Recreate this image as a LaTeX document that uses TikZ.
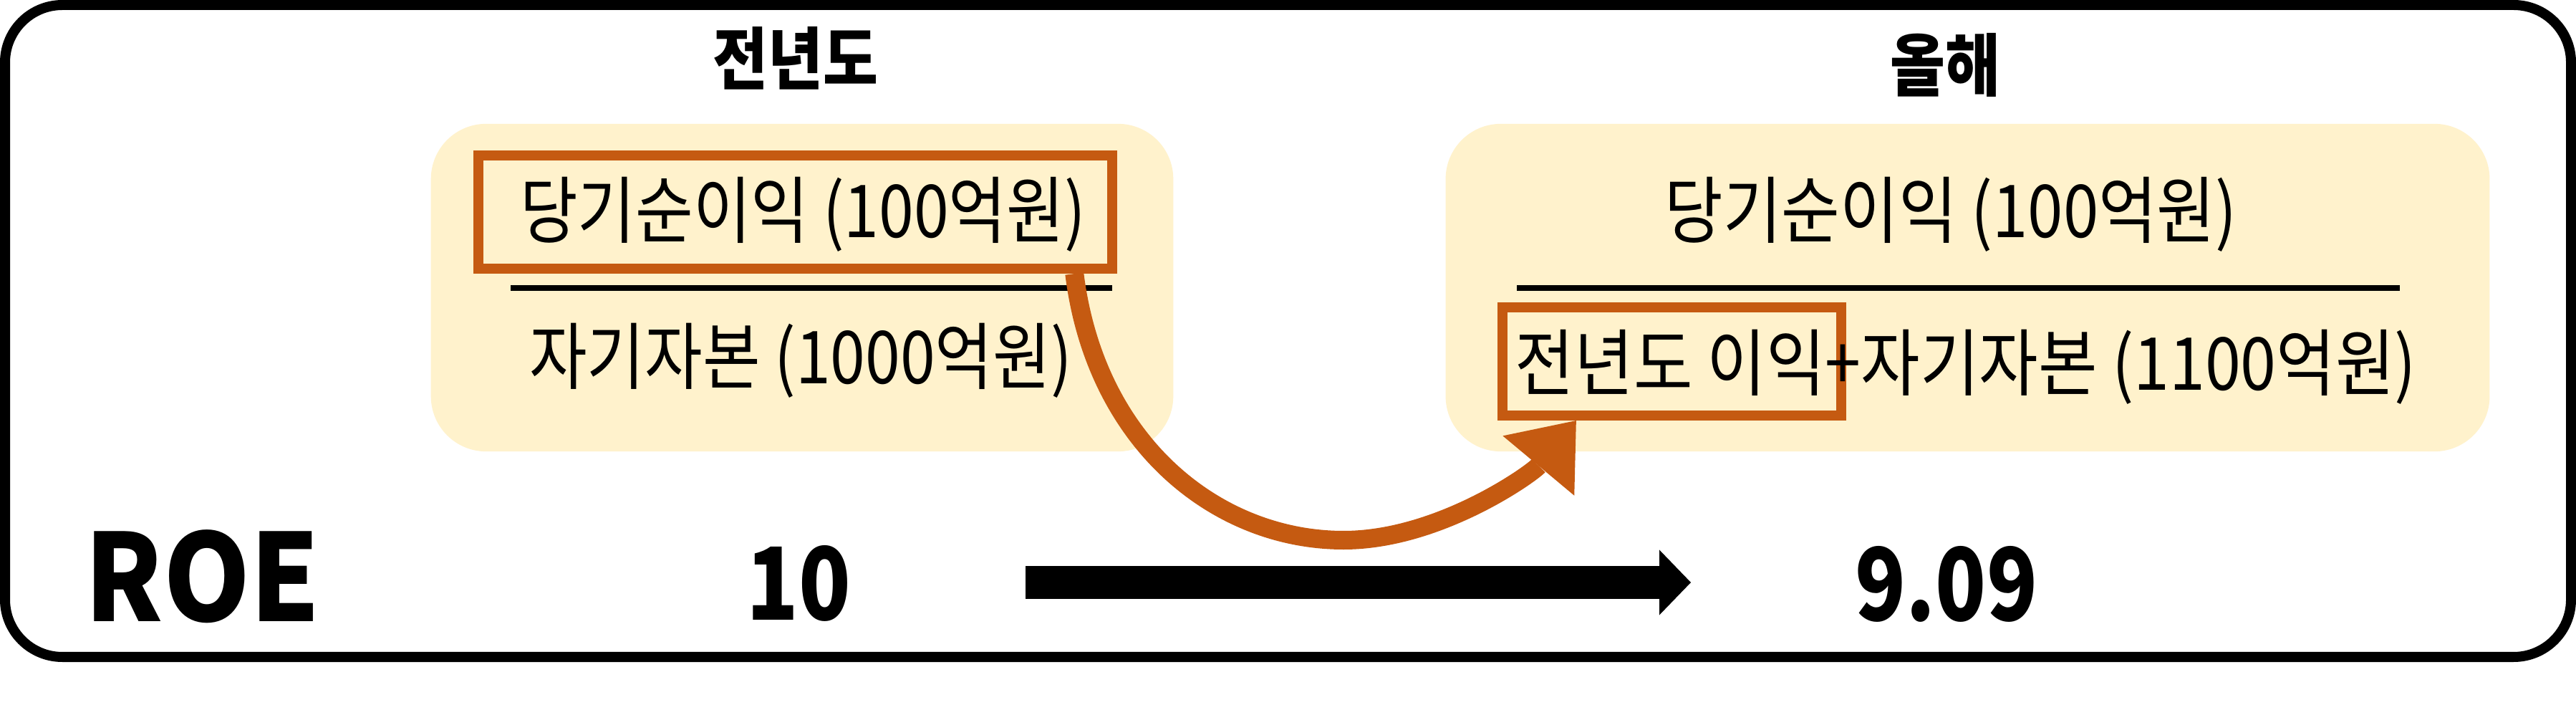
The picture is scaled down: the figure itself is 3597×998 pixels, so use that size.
\documentclass[tikz,border=0pt]{standalone}
\usepackage{fontspec}
\usepackage{graphicx}
\usetikzlibrary{arrows.meta,calc}
\newfontfamily\kr{Noto Sans CJK KR}
\definecolor{panelc}{HTML}{FFF2CC}
\definecolor{orangec}{HTML}{C55A11}
\newcommand\sx[2]{\scalebox{#1}[1]{#2}}
\tikzset{
  panel/.style={fill=panelc, rounded corners=0.77cm, inner sep=0pt},
  hl/.style={draw=orangec, line width=0.14cm, inner sep=0pt},
  fractxt/.style={font=\kr\fontsize{29}{34}\selectfont, inner sep=0pt},
  ttl/.style={font=\kr\bfseries\fontsize{27}{32}\selectfont, inner sep=0pt},
  bigtxt/.style={font=\kr\bfseries\fontsize{48}{56}\selectfont, inner sep=0pt},
  numtxt/.style={font=\kr\bfseries\fontsize{40}{48}\selectfont, inner sep=0pt},
  fracline/.style={line width=0.08cm},
  carrow/.style={draw=orangec, line width=0.26cm, -{Triangle[length=0.82cm,width=1.30cm,line width=0pt]}},
  barrow/.style={line width=0.45cm, -{Triangle[length=0.44cm,width=0.91cm,line width=0pt]}}
}
\begin{document}
\begin{tikzpicture}[x=0.01cm,y=-0.01cm]
\useasboundingbox (0,0) rectangle (3597,998);
\fill[white] (0,0) rectangle (3597,998);
% outer frame
\draw[line width=0.14cm, rounded corners=0.8cm] (7,7) rectangle (3590,917);
% panels
\node[panel, minimum width=10.36cm, minimum height=4.57cm] (lp) at (1120,401.5) {};
\node[panel, minimum width=14.57cm, minimum height=4.57cm] (rp) at (2747.5,401.5) {};
% titles
\node[ttl] (t1) at (1111,81) {\sx{0.88}{전년도}};
\node[ttl] (t2) at (2716,91) {\sx{0.88}{올해}};
% left fraction
\node[hl, minimum width=8.85cm, minimum height=1.58cm] (lbox) at (1110.5,296) {};
\node[fractxt] (lnum) at (1121,299) {\sx{0.86}{당기순이익 (100억원)}};
\draw[fracline] (713,402) -- (1553,402);
\node[fractxt] (lden) at (1118,503) {\sx{0.86}{자기자본 (1000억원)}};
% right fraction
\node[fractxt] (rnum) at (2724,299) {\sx{0.87}{당기순이익 (100억원)}};
\draw[fracline] (2118,402) -- (3351,402);
\node[hl, minimum width=4.73cm, minimum height=1.51cm] (rbox) at (2334.5,504.5) {};
\node[fractxt] (rden) at (2745,512) {\sx{0.88}{전년도 이익+자기자본 (1100억원)}};
% ROE row
\node[bigtxt] (roe) at (283,805) {\sx{0.915}{ROE}};
\node[numtxt] (v1) at (1115,814) {\sx{0.85}{10}};
\node[numtxt] (v2) at (2718,815) {\sx{0.83}{9.09}};
\coordinate (a1) at (1432,813);
\coordinate (a2) at (2361,813);
\draw[barrow] (a1) -- (a2);
% curved orange arrow
\draw[carrow] ($(lbox.south east)+(-60,0)$) .. controls (1530,620) and (1700,754) .. (1876,754)
  .. controls (2010,754) and (2140,660) .. ($(rbox.south west)+(110,0)$);
\end{tikzpicture}
\end{document}
